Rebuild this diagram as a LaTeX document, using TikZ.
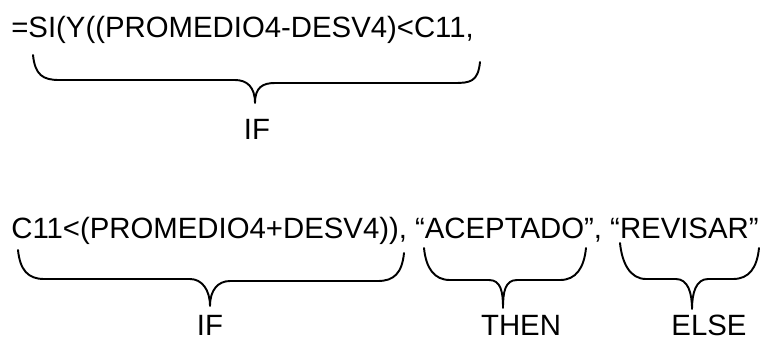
\documentclass[tikz,border=0pt]{standalone}
\usepackage{fontspec}
\setmainfont{Liberation Sans}

\begin{document}
\begin{tikzpicture}[x = 0.02cm, y = -0.02cm,
	formula/.style = {font = \fontsize{16.7}{20}\selectfont, inner sep = 0, anchor = base west},
	etiqueta/.style = {font = \fontsize{16.7}{20}\selectfont, inner sep = 0, anchor = base},
	llave/.style = {line width = 1.1pt, line join = round, line cap = round}]

	\useasboundingbox (0, 0) rectangle (763, 342);

	% Formula split over two lines
	
	\node [formula] (linea1) at (11, 37) {=SI(Y((PROMEDIO4-DESV4)<C11,};
	\node [formula] (linea2) at (11, 238) {C11<(PROMEDIO4+DESV4)), “ACEPTADO”, “REVISAR”};

	% Braces: name / left end / right end / tip / bar heights / half width of the tip
	
	\def\arm{26}		% Horizontal reach of the curved arms
	
	\foreach \n/\xl/\yl/\xr/\yr/\xt/\yt/\ha/\hb/\w in
		{si1/33/55/480/62/255/103/80/83/20,
		 si2/18/250/404/253/210/306/279/281/20,
		 entonces/424/248/586/248/503/308/280/280/14,
		 sino/620/243/759/248/692/309/279/279/16}
		{
		\coordinate (\n-l) at (\xl, \yl);
		\coordinate (\n-r) at (\xr, \yr);
		\coordinate (\n-t) at (\xt, \yt);
		\coordinate (\n-a) at (\xl + \arm, \ha);
		\coordinate (\n-b) at (\xt - \w, \ha);
		\coordinate (\n-c) at (\xt + \w, \hb);
		\coordinate (\n-d) at (\xr - \arm, \hb);
		
		\draw [llave] (\n-l) .. controls +(2, 20) and +(-16, 0) .. (\n-a) -- (\n-b)
			.. controls +(12, 0) and +(0, -16) .. (\n-t)
			.. controls +(0, -16) and +(-12, 0) .. (\n-c) -- (\n-d)
			.. controls +(16, 0) and +(-2, 20) .. (\n-r);
		}

	% Labels under the tips
	
	\node [etiqueta] (si1-txt) at (257, 139) {IF};
	\node [etiqueta] (si2-txt) at (210, 335) {IF};
	\node [etiqueta] (entonces-txt) at (521, 335) {THEN};
	\node [etiqueta] (sino-txt) at (709, 335) {ELSE};

\end{tikzpicture}
\end{document}
